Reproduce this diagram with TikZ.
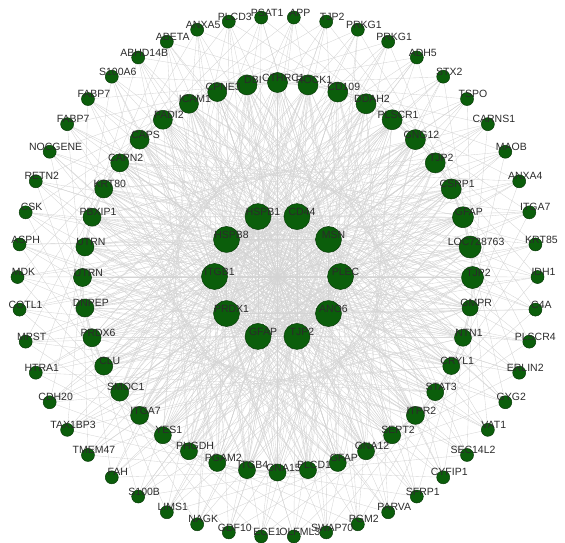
\documentclass[tikz,border=0pt]{standalone}
\usepackage{fontspec}
\setmainfont{Liberation Sans}
\usepackage{tikz}
\usetikzlibrary{backgrounds}
\definecolor{nodegreen}{HTML}{0B5E0B}
\definecolor{nodeedge}{HTML}{073A07}
\definecolor{edgegray}{HTML}{D4D4D4}
\definecolor{labelgray}{HTML}{2B2B2B}

\newcommand{\innergenes}{PLEC,MSN,CD44,HSPB1,HSPB8,ITGB1,PRDX1,GFAP,TJP2,ANO6}
\newcommand{\middlegenes}{TJP2/22,LOC728763/22,GFAP/21,CSRP1/20,TJP2/20,GNG12/20,PLSCR1/20,DDAH2/20,CD109/20,ROCK1/20,CTHRC1/20,DBI/20,CPNE3/19,ICAM1/19,PADI2/19,CAPS/19,CAPN2/18,KRT80/18,PBXIP1/18,UTRN/18,UTRN/18,DNPEP/18,PRDX6/18,CLU/18,SMOC1/18,ITGA7/18,YES1/17,PHGDH/17,PGAM2/17,ITGB4/17,GNA15/17,PLCD1/17,GFAP/17,GNA12/17,SEPT2/17,ITPR2/18,STAT3/17,CRYL1/17,NTN1/17,GMPR/16}
\newcommand{\outergenes}{IDH1,KRT85,ITGA7,ANXA4,MAOB,CARNS1,TSPO,STX2,ADH5,PRKG1,PRKG1,TJP2,APP,PSAT1,PLCD3,ANXA5,ABETA,ABHD14B,S100A6,FABP7,FABP7,NOCGENE,RETN2,CSK,ASPH,MDK,COTL1,MPST,HTRA1,CDH20,TAX1BP3,TMEM47,FAH,S100B,LIMS1,NAGK,GDF10,ECE1,OLFML3,SWAP70,PGM2,PARVA,SFRP1,CYFIP1,SEC14L2,VAT1,GYG2,ERLIN2,PLSCR4,C4A}

\begin{document}
\begin{tikzpicture}[x=1pt, y=-1pt,
    gene/.style={circle, draw=nodeedge, fill=nodegreen, line width=0.5pt, inner sep=0pt},
    genelabel/.style={font=\fontsize{10.5}{11}\selectfont, text=labelgray, inner sep=0pt},
    link/.style={edgegray, line width=0.35pt},
  ]
  \useasboundingbox (0,0) rectangle (565,543);

  % Rings of genes
  \foreach \name [count=\k from 0] in \innergenes
    \node[gene, minimum size=26pt] (in\k) at ({277.5+63*cos(36*\k)}, {276.5-63*sin(36*\k)}) {};
  \foreach \name/\size [count=\k from 0] in \middlegenes
    \node[gene, minimum size=\size pt] (mid\k) at ({277.5+195*cos(9*\k)}, {277.5-195*sin(9*\k)}) {};
  \foreach \name [count=\k from 0] in \outergenes
    \node[gene, minimum size=13pt] (out\k) at ({277.5+260*cos(7.2*\k)}, {277-260*sin(7.2*\k)}) {};

  % Interactions
  \begin{scope}[on background layer]
    \foreach \a in {0,...,9} {
      \foreach \b in {0,...,9} {
        \ifnum\a<\b \draw[link] (in\a) -- (in\b); \fi
      }
    }
    \foreach \m in {0,...,39}
      \foreach \a in {0,...,9}
        \draw[link] (mid\m) -- (in\a);
    \foreach \m in {0,...,39} {
      \pgfmathtruncatemacro\p{mod(\m+20,40)}
      \pgfmathtruncatemacro\q{mod(\m+13,40)}
      \draw[link] (mid\m) -- (mid\p);
      \draw[link] (mid\m) -- (mid\q);
    }
    \foreach \k in {0,...,49} {
      \foreach \j in {0,1,2,3} {
        \pgfmathtruncatemacro\t{mod(\k*7+\j*3,10)}
        \draw[link] (out\k) -- (in\t);
      }
      \foreach \s in {5,35,14} {
        \pgfmathtruncatemacro\t{mod(round(0.8*\k)+\s,40)}
        \draw[link] (out\k) -- (mid\t);
      }
    }
  \end{scope}

  % Labels
  \foreach \name [count=\k from 0] in \innergenes
    \node[genelabel] (in\k-l) at ([shift={(5,-5)}]in\k) {\name};
  \foreach \name/\size [count=\k from 0] in \middlegenes
    \node[genelabel] (mid\k-l) at ([shift={(6,-5)}]mid\k) {\name};
  \foreach \name [count=\k from 0] in \outergenes
    \node[genelabel] (out\k-l) at ([shift={(6,-5)}]out\k) {\name};
\end{tikzpicture}
\end{document}
